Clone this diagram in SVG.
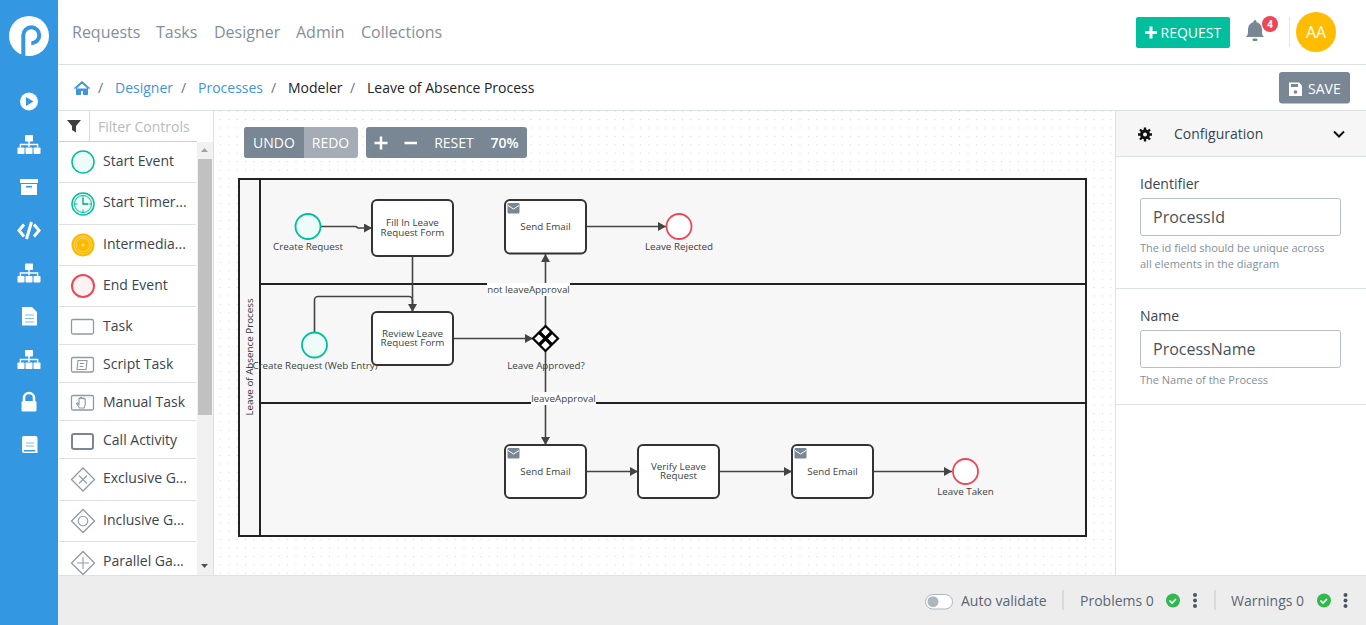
<svg xmlns="http://www.w3.org/2000/svg" width="1366" height="625" viewBox="0 0 1366 625">
<style>
text{font-family:"Open Sans","Noto Sans","DejaVu Sans",sans-serif}
.nav{font-size:16px;fill:#838f99}
.crumb{font-size:14px;fill:#212529}
.link{font-size:14px;fill:#3f95dc}
.sep{font-size:14px;fill:#6c757d}
.item{font-size:14px;fill:#3a444e}
.div{stroke:#dee0e4;stroke-width:1;fill:none}
.tb{font-size:14px;fill:#fff;text-anchor:middle}
.lbl{font-size:9.8px;fill:#3a3f44;text-anchor:middle}
.task{fill:#fff;stroke:#333;stroke-width:2}
.conn{fill:none;stroke:#444;stroke-width:1.6}
.lane{fill:none;stroke:#222;stroke-width:2}
.icon{fill:#fff}
.pal{fill:#fff;stroke:#8d9aa5;stroke-width:1.300}
.palg{fill:none;stroke:#8d9aa5;stroke-width:1.100}
.hint{font-size:11px;fill:#838f99}
.field{fill:#fff;stroke:#b6bfc7;stroke-width:1}
.fv{font-size:16px;fill:#49525a}
.fl{font-size:14px;fill:#3a444e}
.st{font-size:14px;fill:#5c6670}
</style>
<defs>
<pattern id="dots" width="8.4" height="8.4" patternUnits="userSpaceOnUse" x="1.5" y="1.5"><rect width="1" height="1" fill="#d2d5d8"/></pattern>
<marker id="arrow" markerUnits="userSpaceOnUse" markerWidth="9" markerHeight="10" refX="8" refY="4.500" orient="auto"><path d="M0 0L8 4.500L0 9z" fill="#444"/></marker>
<g id="org"><rect x="-4" y="0" width="8" height="6.500" rx="0.800" class="icon"/><rect x="-0.700" y="6" width="1.400" height="6" class="icon"/><path d="M-8.600 12.500V9.500H8.600V12.500" fill="none" stroke="#fff" stroke-width="1.400"/><rect x="-11.500" y="12.500" width="7" height="6.500" rx="0.800" class="icon"/><rect x="-3.500" y="12.500" width="7" height="6.500" rx="0.800" class="icon"/><rect x="4.500" y="12.500" width="7" height="6.500" rx="0.800" class="icon"/></g>
<g id="mail"><rect x="0" y="0" width="12" height="10.500" rx="1" fill="#788793"/><path d="M0.500 2.500L6 6L11.500 2.500" fill="none" stroke="#fff" stroke-width="1"/></g>
</defs>
<rect width="1366" height="625" fill="#fff"/>
<g id="canvas"><rect x="214" y="111" width="902" height="464" fill="#fff"/><rect x="214" y="111" width="902" height="464" fill="url(#dots)"/></g>
<g id="sidebar">
<rect width="58" height="625" fill="#3397e1"/>
<circle cx="29" cy="36" r="20" fill="#fff"/>
<path d="M23.300 56V35.300a8 8 0 1 1 8 8" fill="none" stroke="#3397e1" stroke-width="4"/>
<circle cx="29" cy="101.500" r="9" fill="#fff"/><path d="M26 97L33.500 101.500L26 106z" fill="#3397e1"/>
<use href="#org" x="29" y="135"/>
<g><rect x="20" y="179" width="18" height="4" fill="#fff"/><path d="M21 184h16v11h-16z" fill="#fff"/><rect x="26" y="186" width="6" height="1.500" fill="#3397e1"/></g>
<path d="M24 224.500L19 230.500L24 236.500M34 224.500L39 230.500L34 236.500M31.500 222L26.500 239" fill="none" stroke="#fff" stroke-width="3"/>
<use href="#org" x="29" y="263.500"/>
<path d="M22 307h10l5 5v13.500h-15z" fill="#fff"/><path d="M25 315h9M25 318.500h9M25 322h9" stroke="#7fbdeb" stroke-width="1.200"/>
<use href="#org" x="29" y="350"/>
<path d="M24 402v-4a5 5 0 0 1 10 0v4" fill="none" stroke="#fff" stroke-width="2.500"/><rect x="21.500" y="401" width="15" height="10.500" rx="1.500" fill="#fff"/>
<path d="M24 436h11.500a2 2 0 0 1 2 2v15h-13.500a2 2 0 0 1-2-2v-13a2 2 0 0 1 2-2z" fill="#fff"/><path d="M26 443h8M26 446h8" stroke="#7fbdeb" stroke-width="1"/><rect x="24" y="450" width="11" height="1.500" fill="#3397e1"/>
</g>
<g id="topnav">
<text class="nav" x="72" y="38">Requests</text><text class="nav" x="156" y="38">Tasks</text><text class="nav" x="214" y="38">Designer</text><text class="nav" x="296" y="38">Admin</text><text class="nav" x="361" y="38">Collections</text>
<rect x="1136" y="17" width="94" height="31" rx="2" fill="#00bf9c"/>
<path d="M1145 32.500h12M1151 26.500v12" stroke="#fff" stroke-width="3"/>
<text x="1160.500" y="38" font-size="14" fill="#fff">REQUEST</text>
<path d="M1246 37c2-2 2-3 2-8a7 7 0 0 1 14 0c0 5 0 6 2 8z" fill="#788793"/><circle cx="1255" cy="21.500" r="1.500" fill="#788793"/><rect x="1252.500" y="38.500" width="5" height="2.500" rx="1" fill="#788793"/>
<circle cx="1270" cy="24" r="8" fill="#ed4757"/><text x="1270" y="27.500" font-size="10" font-weight="700" fill="#fff" text-anchor="middle">4</text>
<path d="M1289.500 17v30" stroke="#e4e6e9" stroke-width="1"/>
<circle cx="1316" cy="32" r="20" fill="#ffbc00"/><text x="1316" y="38" font-size="16" fill="#fff" text-anchor="middle">AA</text>
<path class="div" d="M58 64.500H1366"/>
</g>
<g id="breadcrumb">
<path d="M74 88.500L82 81.500L90 88.500M76.500 88v6.500h4v-4h3v4h4V88L82 83z" fill="#3f95dc" stroke="#3f95dc" stroke-width="1"/>
<text class="sep" x="98" y="93">/</text>
<text class="link" x="115" y="93">Designer</text>
<text class="sep" x="181" y="93">/</text>
<text class="link" x="198" y="93">Processes</text>
<text class="sep" x="271" y="93">/</text>
<text class="crumb" x="288" y="93">Modeler</text>
<text class="sep" x="350" y="93">/</text>
<text class="crumb" x="367" y="93">Leave of Absence Process</text>
<rect x="1279" y="72" width="71" height="31.500" rx="3" fill="#788793"/>
<path d="M1289 82.500h10l3 3v10.500h-13z" fill="#fff"/><rect x="1291" y="84" width="7" height="3" fill="#788793"/><circle cx="1295.500" cy="92" r="1.800" fill="#788793"/>
<text x="1308" y="94" font-size="14" fill="#fff">SAVE</text>
<path class="div" d="M58 110.500H1366"/>
</g>
<g id="palette">
<rect x="59" y="111" width="155" height="464" fill="#fff"/>
<path d="M67 120h14l-5 6v6.500l-4-2.500v-4z" fill="#3f3f3f"/>
<path d="M89.500 111v30" stroke="#d9dcdf" stroke-width="1"/>
<text x="98" y="132" font-size="14" fill="#b5bbc0">Filter Controls</text>
<path d="M59 141.500H197" stroke="#c9ced3" stroke-width="1"/>
<rect x="197" y="142" width="16" height="433" fill="#f1f1f1"/>
<rect x="198" y="159" width="14" height="256" fill="#c1c1c1"/>
<path d="M201 152l3.500-4 3.500 4z" fill="#a3a3a3"/><path d="M201 564h7l-3.500 4z" fill="#505050"/>
<path d="M213.500 111V575" stroke="#dee0e4" stroke-width="1"/>
<path class="div" d="M59 182.500H196M59 224.500H196M59 265.500H196M59 306.500H196M59 344.500H196M59 382.500H196M59 420.500H196M59 458.500H196M59 500.500H196M59 541.500H196"/>
<g id="pal-start"><circle cx="83" cy="162" r="11" fill="#eefcf9" stroke="#00bf9c" stroke-width="1.500"/><text class="item" x="103" y="166">Start Event</text></g>
<g id="pal-timer"><circle cx="83" cy="204" r="11" fill="#eefcf9" stroke="#00bf9c" stroke-width="1.500"/><circle cx="83" cy="204" r="8.500" fill="none" stroke="#00bf9c" stroke-width="1"/><path d="M83 195.500v3M83 209.500v3M74.500 204h3M88.500 204h3" stroke="#00bf9c" stroke-width="1"/><path d="M83 198v6h5" fill="none" stroke="#00a085" stroke-width="1.300"/><text class="item" x="103" y="207">Start Timer...</text></g>
<g id="pal-inter"><circle cx="83" cy="245" r="11.500" fill="#fdb900"/><circle cx="83" cy="245" r="9" fill="none" stroke="#ffe08a" stroke-width="0.800"/><circle cx="83" cy="245" r="6.800" fill="none" stroke="#ffe08a" stroke-width="0.800"/><circle cx="83" cy="245" r="1.500" fill="#ffe08a"/><text class="item" x="103" y="249">Intermedia...</text></g>
<g id="pal-end"><circle cx="83" cy="286" r="11" fill="#fff2f3" stroke="#ed4757" stroke-width="2"/><text class="item" x="103" y="290">End Event</text></g>
<g id="pal-task"><rect x="71.500" y="319.500" width="22" height="14.500" rx="1.500" class="pal"/><text class="item" x="103" y="331">Task</text></g>
<g id="pal-script"><rect x="71.500" y="357.500" width="22" height="14.500" rx="1.500" class="pal"/><path d="M78 360.500h9l-1 9h-9z" class="palg"/><path d="M80 363.500h4M79.500 366.500h4" class="palg"/><text class="item" x="103" y="369">Script Task</text></g>
<g id="pal-manual"><rect x="71.500" y="395.500" width="22" height="14.500" rx="1.500" class="pal"/><path d="M79.500 408l-3-4.500 1-.5 1.500 1.500v-6h1.200v-1h1.300v1h1.300v-.5h1.200v1h1.200v5.500l-1 3.500z" class="palg"/><text class="item" x="103" y="407">Manual Task</text></g>
<g id="pal-call"><rect x="72" y="434" width="21" height="15" rx="2" fill="#fff" stroke="#788793" stroke-width="2"/><text class="item" x="103" y="445">Call Activity</text></g>
<g id="pal-xor"><path d="M83 468l11.500 11.500L83 491L71.500 479.500z" class="pal"/><path d="M79 475.500l8 8M87 475.500l-8 8" class="palg"/><text class="item" x="103" y="483">Exclusive G...</text></g>
<g id="pal-or"><path d="M83 509.500l11.500 11.500L83 532.500L71.500 521z" class="pal"/><circle cx="83" cy="521" r="4.800" class="palg"/><text class="item" x="103" y="525">Inclusive G...</text></g>
<g id="pal-and"><path d="M83 551.500l11.500 11.500L83 574.500L71.500 563z" class="pal"/><path d="M83 557v12M77 563h12" class="palg"/><text class="item" x="103" y="566">Parallel Ga...</text></g>
</g>
<g id="toolbar">
<rect x="244" y="127" width="114" height="31" rx="3" fill="#a4adb5"/>
<path d="M247 127h57v31h-57a3 3 0 0 1-3-3v-25a3 3 0 0 1 3-3z" fill="#788793"/>
<text class="tb" x="274" y="148">UNDO</text><text class="tb" x="330.500" y="148">REDO</text>
<rect x="366" y="127" width="161" height="31" rx="3" fill="#788793"/>
<path d="M374.500 143h13M381 136.500v13M404.500 143h12.500" stroke="#fff" stroke-width="2.500"/>
<text class="tb" x="454" y="148">RESET</text><text class="tb" x="504.500" y="148" font-weight="600">70%</text>
</g>
<g id="pool">
<rect x="239" y="179" width="847" height="357" fill="#f7f7f7" stroke="#222" stroke-width="2"/>
<path class="lane" d="M260 179V536M260 284H1086M260 403H1086"/>
<text transform="translate(252.500 357) rotate(-90)" font-size="9.800" fill="#333" text-anchor="middle">Leave of Absence Process</text>
</g>
<g id="connectors">
<path class="conn" marker-end="url(#arrow)" d="M320.500 226.500H356L358 228H372"/>
<path class="conn" marker-end="url(#arrow)" d="M412.500 256V312"/>
<path class="conn" d="M314.500 332.500V300a3.500 3.500 0 0 1 3.500-3.500H409a3.500 3.500 0 0 1 3.500 3.500V304"/>
<path class="conn" marker-end="url(#arrow)" d="M453 338.500H533"/>
<path class="conn" marker-end="url(#arrow)" d="M545.500 326V254"/>
<path class="conn" marker-end="url(#arrow)" d="M545.500 351V445"/>
<path class="conn" marker-end="url(#arrow)" d="M587 226.500H666"/>
<path class="conn" marker-end="url(#arrow)" d="M587 471.500H638"/>
<path class="conn" marker-end="url(#arrow)" d="M720 471.500H792"/>
<path class="conn" marker-end="url(#arrow)" d="M874 471.500H952"/>
<g id="conn-labels">
<rect x="487" y="283" width="83" height="13" fill="#fff"/><text class="lbl" x="528.500" y="293">not leaveApproval</text>
<rect x="531" y="392" width="65" height="13" fill="#fff"/><text class="lbl" x="563.500" y="402">leaveApproval</text>
</g>
</g>
<g id="start-request"><circle cx="308" cy="226.500" r="12.500" fill="#eefcf9" stroke="#00bf9c" stroke-width="1.800"/><text class="lbl" x="308" y="250">Create Request</text></g>
<g id="fill-form"><rect class="task" x="372" y="200" width="81" height="56" rx="5"/><text class="lbl"><tspan x="412.500" y="226">Fill In Leave</tspan><tspan x="412.500" y="236">Request Form</tspan></text></g>
<g id="send-rejected"><rect class="task" x="505" y="200" width="81" height="53.500" rx="5"/><use href="#mail" x="507.500" y="203"/><text class="lbl" x="545.500" y="230">Send Email</text></g>
<g id="end-rejected"><circle cx="679" cy="226.500" r="12.500" fill="#fff" stroke="#ed4757" stroke-width="1.800"/><text class="lbl" x="679" y="250">Leave Rejected</text></g>
<g id="start-web"><circle cx="314.500" cy="345" r="12.500" fill="#eefcf9" stroke="#00bf9c" stroke-width="1.800"/><text class="lbl" x="315" y="369">Create Request (Web Entry)</text></g>
<g id="review-form"><rect class="task" x="372" y="312" width="81" height="53" rx="5"/><text class="lbl"><tspan x="412.500" y="337">Review Leave</tspan><tspan x="412.500" y="346">Request Form</tspan></text></g>
<g id="gateway"><path d="M545.500 326L558 338.500L545.500 351L533 338.500z" fill="#fff" stroke="#000" stroke-width="2.200"/><path d="M539.500 332.500l12 12M551.500 332.500l-12 12" stroke="#000" stroke-width="3.200"/><text class="lbl" x="546" y="369">Leave Approved?</text></g>
<g id="send-approved"><rect class="task" x="505" y="445" width="81" height="53" rx="5"/><use href="#mail" x="507.500" y="448"/><text class="lbl" x="545.500" y="475">Send Email</text></g>
<g id="verify"><rect class="task" x="638" y="445" width="81" height="53" rx="5"/><text class="lbl"><tspan x="678.500" y="470">Verify Leave</tspan><tspan x="678.500" y="479">Request</tspan></text></g>
<g id="send-taken"><rect class="task" x="792" y="445" width="81" height="53" rx="5"/><use href="#mail" x="794.500" y="448"/><text class="lbl" x="832.500" y="475">Send Email</text></g>
<g id="end-taken"><circle cx="965.500" cy="471.500" r="12.500" fill="#fff" stroke="#ed4757" stroke-width="1.800"/><text class="lbl" x="965.500" y="495">Leave Taken</text></g>
<g id="config">
<rect x="1116" y="111" width="250" height="464" fill="#fff"/>
<path d="M1115.500 111V575" stroke="#dee0e4" stroke-width="1"/>
<rect x="1116" y="111" width="250" height="45" fill="#f6f6f6"/>
<circle cx="1145" cy="134.500" r="5" fill="#111"/>
<path d="M1145 127.500v14M1138 134.500h14M1140 129.500l10 10M1150 129.500l-10 10" stroke="#111" stroke-width="2.400"/>
<circle cx="1145" cy="134.500" r="2" fill="#f6f6f6"/>
<text x="1174" y="139" font-size="14" fill="#3a444e">Configuration</text>
<path d="M1334 131.500l5 5 5-5" fill="none" stroke="#111" stroke-width="2"/>
<path class="div" d="M1116 156.500H1366M1116 288.500H1366M1116 404.500H1366"/>
<text class="fl" x="1140" y="189">Identifier</text>
<rect class="field" x="1140.500" y="198.500" width="200" height="37" rx="2"/>
<text class="fv" x="1153" y="223">ProcessId</text>
<text class="hint" x="1140" y="252">The id field should be unique across</text>
<text class="hint" x="1140" y="268">all elements in the diagram</text>
<text class="fl" x="1140" y="321">Name</text>
<rect class="field" x="1140.500" y="330.500" width="200" height="37" rx="2"/>
<text class="fv" x="1153" y="355">ProcessName</text>
<text class="hint" x="1140" y="384">The Name of the Process</text>
</g>
<g id="statusbar">
<rect x="58" y="575" width="1308" height="50" fill="#ededed"/>
<path d="M58 575.500H1366" stroke="#dee0e4" stroke-width="1"/>
<rect x="925.500" y="594.500" width="27" height="14.500" rx="7.200" fill="#fff" stroke="#adb5bd" stroke-width="1"/><circle cx="933" cy="601.700" r="5.500" fill="#adb5bd"/>
<text class="st" x="961" y="606">Auto validate</text>
<path d="M1063 590v20M1215 590v20" stroke="#cfd2d5" stroke-width="1.500"/>
<text class="st" x="1080" y="606">Problems 0</text>
<circle cx="1173" cy="600.500" r="7" fill="#33b850"/><path d="M1169.500 600.500l2.500 2.500 4-4" fill="none" stroke="#fff" stroke-width="1.600"/>
<circle cx="1195" cy="595" r="2" fill="#4a5561"/><circle cx="1195" cy="600.500" r="2" fill="#4a5561"/><circle cx="1195" cy="606" r="2" fill="#4a5561"/>
<text class="st" x="1231" y="606">Warnings 0</text>
<circle cx="1324" cy="600.500" r="7" fill="#33b850"/><path d="M1320.500 600.500l2.500 2.500 4-4" fill="none" stroke="#fff" stroke-width="1.600"/>
<circle cx="1345.500" cy="595" r="2" fill="#4a5561"/><circle cx="1345.500" cy="600.500" r="2" fill="#4a5561"/><circle cx="1345.500" cy="606" r="2" fill="#4a5561"/>
</g>
</svg>
